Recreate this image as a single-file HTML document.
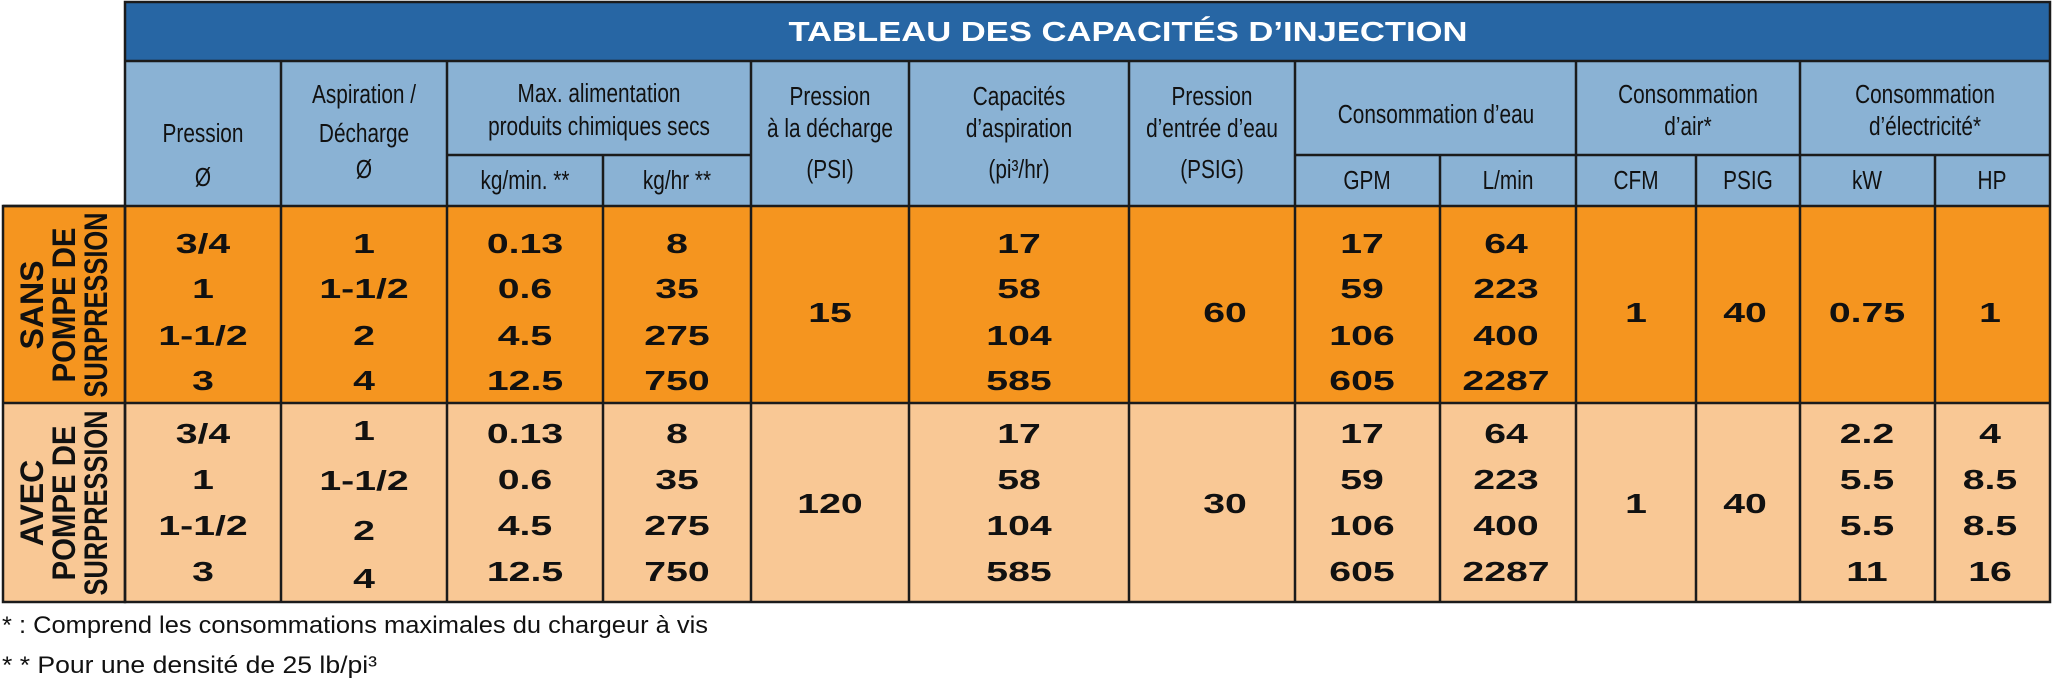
<!DOCTYPE html>
<html><head><meta charset="utf-8"><style>
html,body{margin:0;padding:0;background:#fff;}
svg{display:block}
text{font-family:"Liberation Sans",sans-serif;}
.h{font-size:26px;fill:#111;text-anchor:middle}
.n{font-size:28px;font-weight:bold;fill:#111;text-anchor:middle}
.l{font-size:32px;font-weight:bold;fill:#111;text-anchor:middle}
</style></head><body>
<svg width="2052" height="692" viewBox="0 0 2052 692" xmlns="http://www.w3.org/2000/svg">
<rect x="0" y="0" width="2052" height="692" fill="#fff"/>
<rect x="125" y="2" width="1925" height="59" fill="#2766a4"/>
<rect x="125" y="61" width="1925" height="145" fill="#8ab2d4"/>
<rect x="3" y="206" width="2047" height="197" fill="#f5951f"/>
<rect x="3" y="403" width="2047" height="199" fill="#f9c895"/>
<g stroke="#1b1b1b" stroke-width="2.5" fill="none">
<rect x="125" y="2" width="1925" height="600"/>
<rect x="3" y="206" width="122" height="396"/>
<line x1="125" y1="61" x2="2050" y2="61"/>
<line x1="3" y1="206" x2="2050" y2="206"/>
<line x1="3" y1="403" x2="2050" y2="403"/>
<line x1="447" y1="155" x2="751" y2="155"/>
<line x1="1295" y1="155" x2="2050" y2="155"/>
<line x1="281" y1="61" x2="281" y2="602"/>
<line x1="447" y1="61" x2="447" y2="602"/>
<line x1="603" y1="155" x2="603" y2="602"/>
<line x1="751" y1="61" x2="751" y2="602"/>
<line x1="909" y1="61" x2="909" y2="602"/>
<line x1="1129" y1="61" x2="1129" y2="602"/>
<line x1="1295" y1="61" x2="1295" y2="602"/>
<line x1="1440" y1="155" x2="1440" y2="602"/>
<line x1="1576" y1="61" x2="1576" y2="602"/>
<line x1="1696" y1="155" x2="1696" y2="602"/>
<line x1="1800" y1="61" x2="1800" y2="602"/>
<line x1="1935" y1="155" x2="1935" y2="602"/>
</g>
<text x="1128" y="41" font-size="28" font-weight="bold" fill="#fff" text-anchor="middle" textLength="679" lengthAdjust="spacingAndGlyphs">TABLEAU DES CAPACITÉS D’INJECTION</text>
<!-- headers -->
<g transform="translate(203,0) scale(.8,1)"><text class="h" x="0" y="142">Pression</text><text class="h" x="0" y="186">Ø</text></g>
<g transform="translate(364,0) scale(.8,1)"><text class="h" x="0" y="103">Aspiration /</text><text class="h" x="0" y="142">Décharge</text><text class="h" x="0" y="178">Ø</text></g>
<g transform="translate(599,0) scale(.8,1)"><text class="h" x="0" y="102">Max. alimentation</text><text class="h" x="0" y="135">produits chimiques secs</text></g>
<g transform="translate(525,0) scale(.8,1)"><text class="h" x="0" y="189">kg/min. **</text></g>
<g transform="translate(677,0) scale(.8,1)"><text class="h" x="0" y="189">kg/hr **</text></g>
<g transform="translate(830,0) scale(.8,1)"><text class="h" x="0" y="105">Pression</text><text class="h" x="0" y="137">à la décharge</text><text class="h" x="0" y="178">(PSI)</text></g>
<g transform="translate(1019,0) scale(.8,1)"><text class="h" x="0" y="105">Capacités</text><text class="h" x="0" y="137">d’aspiration</text><text class="h" x="0" y="178">(pi³/hr)</text></g>
<g transform="translate(1212,0) scale(.8,1)"><text class="h" x="0" y="105">Pression</text><text class="h" x="0" y="137">d’entrée d’eau</text><text class="h" x="0" y="178">(PSIG)</text></g>
<g transform="translate(1436,0) scale(.8,1)"><text class="h" x="0" y="123">Consommation d’eau</text></g>
<g transform="translate(1688,0) scale(.8,1)"><text class="h" x="0" y="103">Consommation</text><text class="h" x="0" y="135">d’air*</text></g>
<g transform="translate(1925,0) scale(.8,1)"><text class="h" x="0" y="103">Consommation</text><text class="h" x="0" y="135">d’électricité*</text></g>
<g transform="translate(1367,0) scale(.8,1)"><text class="h" x="0" y="189">GPM</text></g>
<g transform="translate(1508,0) scale(.8,1)"><text class="h" x="0" y="189">L/min</text></g>
<g transform="translate(1636,0) scale(.8,1)"><text class="h" x="0" y="189">CFM</text></g>
<g transform="translate(1748,0) scale(.8,1)"><text class="h" x="0" y="189">PSIG</text></g>
<g transform="translate(1867,0) scale(.8,1)"><text class="h" x="0" y="189">kW</text></g>
<g transform="translate(1992,0) scale(.8,1)"><text class="h" x="0" y="189">HP</text></g>
<!-- left labels -->
<g transform="translate(43,305) rotate(-90)"><text class="l" x="0" y="0">SANS</text></g>
<g transform="translate(75,305) rotate(-90)"><text class="l" x="0" y="0" textLength="155" lengthAdjust="spacingAndGlyphs">POMPE DE</text></g>
<g transform="translate(107,305) rotate(-90)"><text class="l" x="0" y="0" textLength="185" lengthAdjust="spacingAndGlyphs">SURPRESSION</text></g>
<g transform="translate(43,503) rotate(-90)"><text class="l" x="0" y="0">AVEC</text></g>
<g transform="translate(75,503) rotate(-90)"><text class="l" x="0" y="0" textLength="155" lengthAdjust="spacingAndGlyphs">POMPE DE</text></g>
<g transform="translate(107,503) rotate(-90)"><text class="l" x="0" y="0" textLength="185" lengthAdjust="spacingAndGlyphs">SURPRESSION</text></g>
<!-- numbers -->
<g transform="translate(203,0) scale(1.4,1)">
<text class="n" x="0" y="253">3/4</text><text class="n" x="0" y="298">1</text><text class="n" x="0" y="345">1-1/2</text><text class="n" x="0" y="390">3</text>
<text class="n" x="0" y="443">3/4</text><text class="n" x="0" y="489">1</text><text class="n" x="0" y="535">1-1/2</text><text class="n" x="0" y="581">3</text></g>
<g transform="translate(364,0) scale(1.4,1)">
<text class="n" x="0" y="253">1</text><text class="n" x="0" y="298">1-1/2</text><text class="n" x="0" y="345">2</text><text class="n" x="0" y="390">4</text>
<text class="n" x="0" y="440">1</text><text class="n" x="0" y="490">1-1/2</text><text class="n" x="0" y="540">2</text><text class="n" x="0" y="588">4</text></g>
<g transform="translate(525,0) scale(1.4,1)">
<text class="n" x="0" y="253">0.13</text><text class="n" x="0" y="298">0.6</text><text class="n" x="0" y="345">4.5</text><text class="n" x="0" y="390">12.5</text>
<text class="n" x="0" y="443">0.13</text><text class="n" x="0" y="489">0.6</text><text class="n" x="0" y="535">4.5</text><text class="n" x="0" y="581">12.5</text></g>
<g transform="translate(677,0) scale(1.4,1)">
<text class="n" x="0" y="253">8</text><text class="n" x="0" y="298">35</text><text class="n" x="0" y="345">275</text><text class="n" x="0" y="390">750</text>
<text class="n" x="0" y="443">8</text><text class="n" x="0" y="489">35</text><text class="n" x="0" y="535">275</text><text class="n" x="0" y="581">750</text></g>
<g transform="translate(830,0) scale(1.4,1)"><text class="n" x="0" y="322">15</text><text class="n" x="0" y="513">120</text></g>
<g transform="translate(1019,0) scale(1.4,1)">
<text class="n" x="0" y="253">17</text><text class="n" x="0" y="298">58</text><text class="n" x="0" y="345">104</text><text class="n" x="0" y="390">585</text>
<text class="n" x="0" y="443">17</text><text class="n" x="0" y="489">58</text><text class="n" x="0" y="535">104</text><text class="n" x="0" y="581">585</text></g>
<g transform="translate(1225,0) scale(1.4,1)"><text class="n" x="0" y="322">60</text><text class="n" x="0" y="513">30</text></g>
<g transform="translate(1362,0) scale(1.4,1)">
<text class="n" x="0" y="253">17</text><text class="n" x="0" y="298">59</text><text class="n" x="0" y="345">106</text><text class="n" x="0" y="390">605</text>
<text class="n" x="0" y="443">17</text><text class="n" x="0" y="489">59</text><text class="n" x="0" y="535">106</text><text class="n" x="0" y="581">605</text></g>
<g transform="translate(1506,0) scale(1.4,1)">
<text class="n" x="0" y="253">64</text><text class="n" x="0" y="298">223</text><text class="n" x="0" y="345">400</text><text class="n" x="0" y="390">2287</text>
<text class="n" x="0" y="443">64</text><text class="n" x="0" y="489">223</text><text class="n" x="0" y="535">400</text><text class="n" x="0" y="581">2287</text></g>
<g transform="translate(1636,0) scale(1.4,1)"><text class="n" x="0" y="322">1</text><text class="n" x="0" y="513">1</text></g>
<g transform="translate(1745,0) scale(1.4,1)"><text class="n" x="0" y="322">40</text><text class="n" x="0" y="513">40</text></g>
<g transform="translate(1867,0) scale(1.4,1)"><text class="n" x="0" y="322">0.75</text>
<text class="n" x="0" y="443">2.2</text><text class="n" x="0" y="489">5.5</text><text class="n" x="0" y="535">5.5</text><text class="n" x="0" y="581">11</text></g>
<g transform="translate(1990,0) scale(1.4,1)"><text class="n" x="0" y="322">1</text>
<text class="n" x="0" y="443">4</text><text class="n" x="0" y="489">8.5</text><text class="n" x="0" y="535">8.5</text><text class="n" x="0" y="581">16</text></g>
<text x="2" y="633" font-size="24" fill="#111" textLength="706" lengthAdjust="spacingAndGlyphs">* : Comprend les consommations maximales du chargeur à vis</text>
<text x="2" y="673" font-size="24" fill="#111" textLength="375" lengthAdjust="spacingAndGlyphs">* * Pour une densité de 25 lb/pi³</text>
</svg>
</body></html>
